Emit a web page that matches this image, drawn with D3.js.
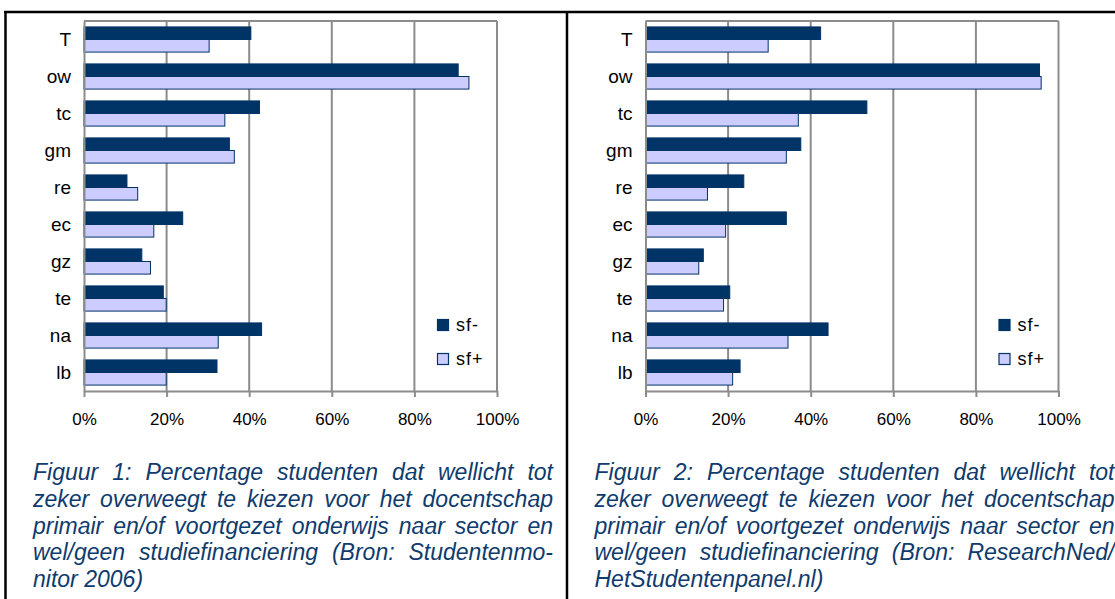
<!DOCTYPE html>
<html>
<head>
<meta charset="utf-8">
<script src="https://cdn.jsdelivr.net/npm/d3@7"></script>
<style>
  body { margin: 0; background: #fff; }
  svg { display: block; font-family: "Liberation Sans", Arial, sans-serif; }
</style>
</head>
<body>
<div id="chart"></div>
<script>
// Data
const categories = ["T", "ow", "tc", "gm", "re", "ec", "gz", "te", "na", "lb"];
const seriesNames = ["sf-", "sf+"];
const ticksPct = [0, 20, 40, 60, 80, 100];

const fig1SfMin  = [40.4, 90.6, 42.5, 35.2, 10.4, 23.9, 14.0, 19.2, 43.0, 32.2];
const fig1SfPlus = [30.3, 93.2, 34.1, 36.4, 13.0, 16.9, 16.1, 19.9, 32.5, 19.9];
const fig2SfMin  = [42.4, 95.4, 53.6, 37.6, 23.8, 34.1, 14.0, 20.4, 44.2, 22.9];
const fig2SfPlus = [29.7, 95.8, 37.0, 34.1, 15.0, 19.4, 12.9, 18.9, 34.5, 21.1];

const caption1 = [
  "Figuur 1: Percentage studenten dat wellicht tot",
  "zeker overweegt te kiezen voor het docentschap",
  "primair en/of voortgezet onderwijs naar sector en",
  "wel/geen studiefinanciering (Bron: Studentenmo-",
  "nitor 2006)"
];
const caption2 = [
  "Figuur 2: Percentage studenten dat wellicht tot",
  "zeker overweegt te kiezen voor het docentschap",
  "primair en/of voortgezet onderwijs naar sector en",
  "wel/geen studiefinanciering (Bron: ResearchNed/",
  "HetStudentenpanel.nl)"
];

const width = 1115, height = 599;
const dark = "#003366", light = "#ccccff", gridCol = "#8c8c8c";

const svg = d3.select("#chart")
    .append("svg")
    .attr("width", width)
    .attr("height", height);

// page frame lines
svg.append("line").attr("x1", 4).attr("x2", width).attr("y1", 12).attr("y2", 12)
    .attr("stroke", "#000").attr("stroke-width", 2.5);
svg.append("line").attr("x1", 5.5).attr("x2", 5.5).attr("y1", 11).attr("y2", height)
    .attr("stroke", "#000").attr("stroke-width", 2.5);
svg.append("line").attr("x1", 567).attr("x2", 567).attr("y1", 11).attr("y2", height)
    .attr("stroke", "#000").attr("stroke-width", 2.5);

function drawPanel(ox, sfMin, sfPlus, caption) {
    const g = svg.append("g").attr("transform", `translate(${ox},0)`);

    const x = d3.scaleLinear().domain([0, 100]).range([84, 497]);
    const y0 = d3.scaleBand().domain(categories).range([21, 391])
        .paddingInner(0.32).paddingOuter(0.16);
    const y1 = d3.scaleBand().domain(seriesNames).range([0, y0.bandwidth()]);

    // gridlines + top edge of plot
    g.append("g").selectAll("line")
        .data(ticksPct.slice(1))
        .join("line")
        .attr("x1", d => x(d)).attr("x2", d => x(d))
        .attr("y1", 21).attr("y2", 391)
        .attr("stroke", gridCol).attr("stroke-width", 2);
    g.append("line")
        .attr("x1", x(0)).attr("x2", x(100)).attr("y1", 21).attr("y2", 21)
        .attr("stroke", gridCol).attr("stroke-width", 2);

    // bars
    const rows = categories.map((c, i) => ({cat: c, vals: [sfMin[i], sfPlus[i]]}));
    const grp = g.append("g").selectAll("g")
        .data(rows)
        .join("g")
        .attr("transform", d => `translate(0,${y0(d.cat)})`);
    grp.selectAll("rect")
        .data(d => d.vals.map((v, j) => ({key: seriesNames[j], v: v})))
        .join("rect")
        .attr("x", x(0))
        .attr("y", d => y1(d.key))
        .attr("width", d => x(d.v) - x(0))
        .attr("height", y1.bandwidth())
        .attr("fill", d => d.key === "sf-" ? dark : light)
        .attr("stroke", dark)
        .attr("stroke-width", 1);

    // x axis
    const xAxis = g.append("g")
        .attr("transform", "translate(0,391)")
        .call(d3.axisBottom(x).tickValues(ticksPct).tickSize(6).tickSizeOuter(0)
            .tickPadding(16).tickFormat(d => d + "%"));
    xAxis.select(".domain").attr("stroke", gridCol).attr("stroke-width", 2);
    xAxis.selectAll(".tick line").attr("stroke", gridCol).attr("stroke-width", 2);
    xAxis.selectAll("text").attr("font-size", 17).attr("fill", "#000")
        .attr("font-family", "Liberation Sans, Arial, sans-serif");

    // y axis
    const yAxis = g.append("g")
        .attr("transform", `translate(${x(0)},0)`)
        .call(d3.axisLeft(y0).tickSize(0).tickPadding(13).tickSizeOuter(0));
    yAxis.select(".domain").attr("stroke", gridCol).attr("stroke-width", 2);
    yAxis.selectAll("text").attr("font-size", 19).attr("fill", "#000")
        .attr("font-family", "Liberation Sans, Arial, sans-serif");

    // legend
    const leg = g.append("g").attr("transform", "translate(437,319)");
    seriesNames.forEach((s, i) => {
        leg.append("rect")
            .attr("x", 0.5).attr("y", i * 34 + 0.5)
            .attr("width", 11).attr("height", 11)
            .attr("fill", i === 0 ? dark : light)
            .attr("stroke", dark).attr("stroke-width", 1.2);
        leg.append("text")
            .attr("x", 19).attr("y", i * 34 + 6)
            .attr("dy", "0.35em")
            .attr("font-size", 18)
            .attr("letter-spacing", 1)
            .text(s);
    });

    // caption, justified word by word
    const capW = 520;
    caption.forEach((line, i) => {
        const t = g.append("text")
            .attr("y", 480 + i * 26.8)
            .attr("font-size", 23)
            .attr("font-style", "italic")
            .attr("fill", "#0f3b6e");
        const words = line.split(" ");
        const spans = words.map(w => t.append("tspan").text(w));
        const lens = spans.map(s => s.node().getComputedTextLength());
        const last = i === caption.length - 1;
        const gap = last ? 6.5 : (capW - d3.sum(lens)) / (words.length - 1);
        let cx = 33;
        spans.forEach((s, j) => {
            s.attr("x", cx);
            cx += lens[j] + gap;
        });
    });
}

drawPanel(0, fig1SfMin, fig1SfPlus, caption1);
drawPanel(561.5, fig2SfMin, fig2SfPlus, caption2);
</script>
</body>
</html>
